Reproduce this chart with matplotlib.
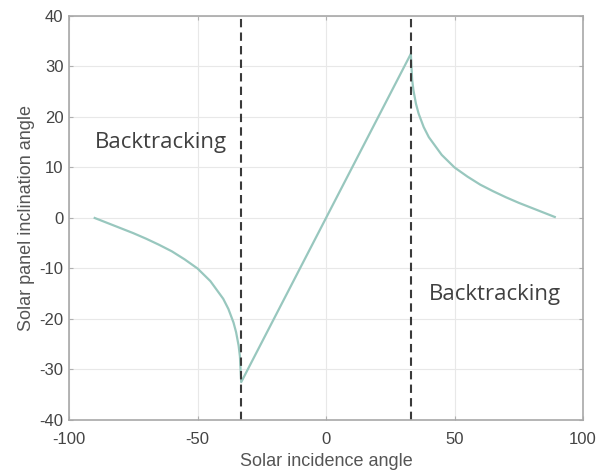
import numpy as np
import matplotlib
matplotlib.use('Agg')
import matplotlib.pyplot as plt

# values
incidence = [-90, -85, -80, -75, -70, -65, -60, -55, -50, -45, -40, -38, -36, -35, -34, -33.5, -33,
             0,
             33, 33.5, 34, 35, 36, 38, 40, 45, 50, 55, 60, 65, 70, 75, 80, 85, 89]
inclination = [0, -1.0, -2.0, -3.0, -4.1, -5.3, -6.6, -8.2, -10.0, -12.5, -16.0, -18.0, -20.7, -22.6, -25.3, -27.4, -32.5,
               0,
               32.5, 27.4, 25.3, 22.6, 20.7, 18.0, 16.0, 12.5, 10.0, 8.2, 6.6, 5.3, 4.1, 3.0, 2.0, 1.0, 0.2]
limits = [-33, 33]
xticks = [-100, -50, 0, 50, 100]
yticks = [-40, -30, -20, -10, 0, 10, 20, 30, 40]

plt.rcParams['font.family'] = ['Liberation Sans', 'DejaVu Sans']
plt.rcParams['axes.unicode_minus'] = False
fig = plt.figure(figsize=(5.98, 4.70), dpi=100)
ax = fig.add_axes([0.1154, 0.1064, 0.8596, 0.8596])

ax.plot(incidence, inclination, color='#98c7be', lw=1.6)
for lim in limits:
    ax.axvline(lim, color='#3a3a3a', ls=(0, (4, 2.5)), lw=1.5)

ax.set_xlim(-100, 100)
ax.set_ylim(-40, 40)
ax.set_xticks(xticks)
ax.set_yticks(yticks)
ax.grid(True, color='#e8e8e8', lw=0.8)
ax.tick_params(colors='#b0b0b0', labelcolor='#444444', labelsize=12, length=3,
               direction='in', top=True, right=True)
ax.tick_params(axis='x', pad=9)
ax.tick_params(axis='y', pad=4)
for s in ax.spines.values():
    s.set_color('#a8a8a8')
    s.set_linewidth(1.2)

ax.set_xlabel('Solar incidence angle', fontsize=13, color='#555555', labelpad=4)
ax.set_ylabel('Solar panel inclination angle', fontsize=13, color='#555555', labelpad=3)

ax.text(-90, 15, 'Backtracking', fontsize=16, color='#404040', family='Open Sans',
        va='center', ha='left')
ax.text(40, -15.2, 'Backtracking', fontsize=16, color='#404040', family='Open Sans',
        va='center', ha='left')

fig.savefig('out.png', dpi=100)
